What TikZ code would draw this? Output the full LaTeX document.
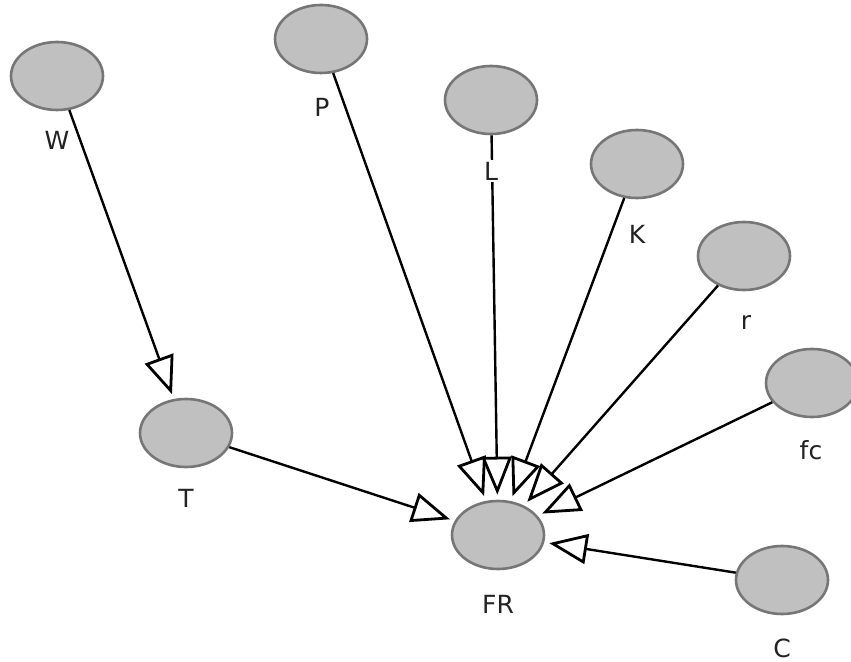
\documentclass[tikz,border=0pt]{standalone}
\usepackage{fontspec}
\setsansfont{DejaVu Sans}
\usetikzlibrary{arrows.meta,shapes.geometric}

\definecolor{varfill}{RGB}{192,192,192}
\definecolor{varline}{RGB}{118,118,118}
\definecolor{lbltext}{RGB}{35,35,35}

\begin{document}
\begin{tikzpicture}[x=0.5pt, y=-0.5pt,
                    var/.style={ellipse, fill=varfill, draw=varline, line width=1.3pt,
                                minimum width=46pt, minimum height=34pt, inner sep=0pt},
                    lbl/.style={fill=white, inner sep=1pt, text=lbltext,
                                font=\sffamily\fontsize{12.5}{15}\selectfont},
                    link/.style={line width=1.2pt, shorten >=2.5pt,
                                 -{Triangle[open, length=19pt, width=15pt, line width=1.4pt]}}]
                    \useasboundingbox[fill=white] (0,0) rectangle (851,662);

                    \node[var] (W)  at (57, 76) {};
                    \node[var] (P)  at (321, 39) {};
                    \node[var] (L)  at (491, 100) {};
                    \node[var] (K)  at (637, 164) {};
                    \node[var] (r)  at (744, 256) {};
                    \node[var] (fc) at (812, 383) {};
                    \node[var] (T)  at (186, 433) {};
                    \node[var] (FR) at (498, 535) {};
                    \node[var] (C)  at (782, 580) {};

                    \draw[link] (W) -- (T);
                    \draw[link] (T) -- (FR);
                    \draw[link] (P) -- (FR);
                    \draw[link] (L) -- (FR);
                    \draw[link] (K) -- (FR);
                    \draw[link] (r) -- (FR);
                    \draw[link] (fc) -- (FR);
                    \draw[link] (C) -- (FR);

                    \node[lbl] (W-lbl)  at (57, 140) {W};
                    \node[lbl] (P-lbl)  at (322, 107) {P};
                    \node[lbl] (L-lbl)  at (491, 171) {L};
                    \node[lbl] (K-lbl)  at (637, 234) {K};
                    \node[lbl] (r-lbl)  at (746, 323) {r};
                    \node[lbl] (fc-lbl) at (811, 450) {fc};
                    \node[lbl] (T-lbl)  at (186, 498) {T};
                    \node[lbl] (FR-lbl) at (498, 604) {FR};
                    \node[lbl] (C-lbl)  at (782, 648) {C};
                \end{tikzpicture}
\end{document}
